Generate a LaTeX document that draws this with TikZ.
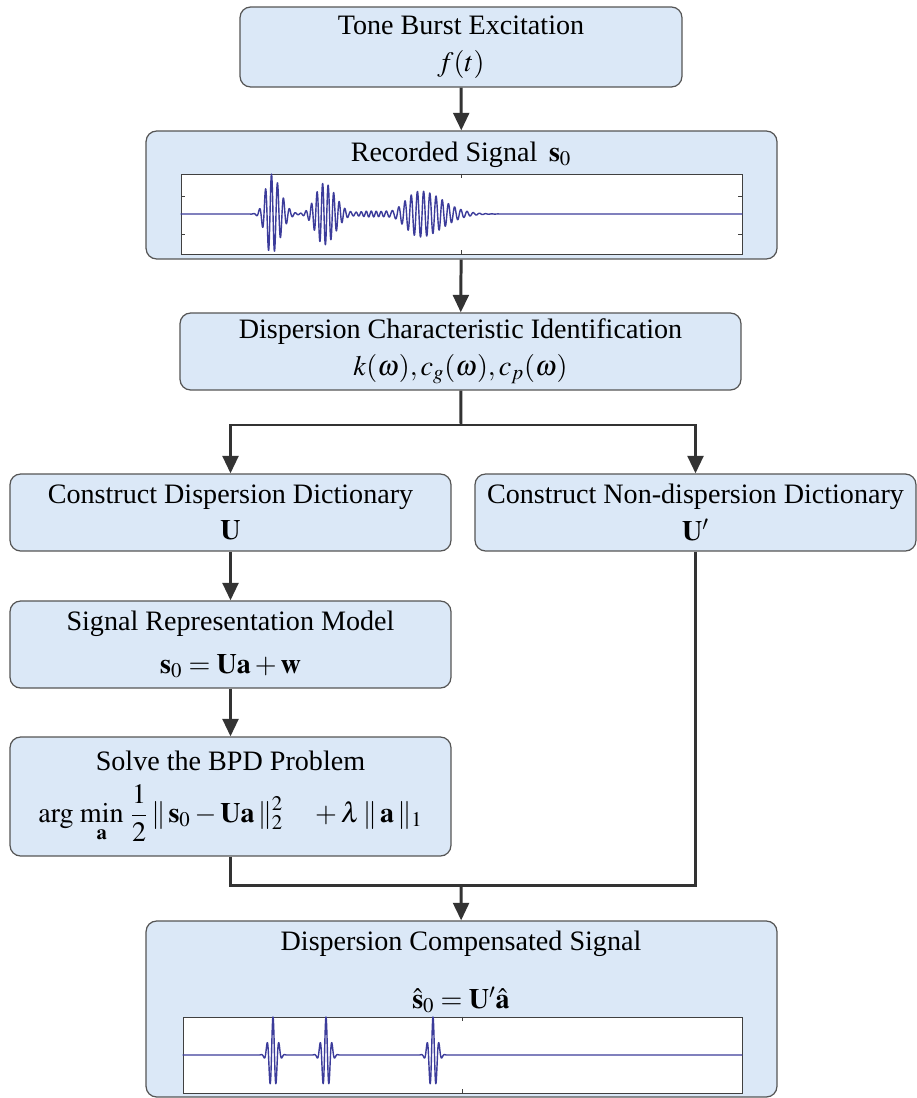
\documentclass[tikz,border=0pt]{standalone}
\usepackage{mathptmx}
\usepackage[no-math]{fontspec}
\setmainfont{Liberation Serif}
\usetikzlibrary{arrows.meta, positioning}
\definecolor{box_fill}{RGB}{219, 232, 247}
\definecolor{box_edge}{RGB}{85, 85, 85}
\definecolor{arrow_grey}{RGB}{51, 51, 51}
\definecolor{trace_blue}{RGB}{60, 60, 155}

\begin{document}
\begin{tikzpicture}[
    x=0.02cm, y=-0.02cm,
    every node/.style={font=\fontsize{16}{21}\selectfont},
    box/.style={draw=box_edge, line width=0.7pt, rounded corners=6pt, fill=box_fill,
                align=center, inner sep=0pt},
    plotbg/.style={draw=black!75, line width=0.5pt, fill=white, inner sep=0pt},
    arr/.style={-{Triangle[width=9pt,length=10pt]}, line width=1.7pt, arrow_grey},
    lin/.style={line width=1.7pt, arrow_grey},
    tick/.style={line width=0.5pt, black!75},
    trace/.style={trace_blue, line width=0.8pt, line join=round},
]
\useasboundingbox (0,0) rectangle (916,1098);

\node[box, minimum width=8.84cm, minimum height=1.6cm]   (tone) at (461,47)
    {Tone Burst Excitation\\$f(t)$};
\node[box, minimum width=12.62cm, minimum height=2.56cm] (rec)  at (461.5,195) {};
\node (rectitle) at (461,155) {Recorded Signal \,$\mathbf{s}_0$};
\node[plotbg, minimum width=11.22cm, minimum height=1.6cm] (recplot) at (461.5,214) {};

\node[box, minimum width=11.22cm, minimum height=1.54cm] (dci)  at (460.5,351.5)
    {Dispersion Characteristic Identification\\$k(\omega), c_g(\omega), c_p(\omega)$};
\node[box, minimum width=8.82cm, minimum height=1.54cm]  (cdd)  at (230.5,512.5)
    {Construct Dispersion Dictionary\\$\mathbf{U}$};
\node[box, minimum width=8.82cm, minimum height=1.54cm]  (cnd)  at (695.5,512.5)
    {Construct Non-dispersion Dictionary\\$\mathbf{U}^{\prime}$};
\node[box, minimum width=8.82cm, minimum height=1.74cm]  (srm)  at (230.5,644.5)
    {Signal Representation Model\\[3pt]$\mathbf{s}_0=\mathbf{U}\mathbf{a}+\mathbf{w}$};
\node[box, minimum width=8.82cm, minimum height=2.38cm]  (bpd)  at (230.5,796.5)
    {Solve the BPD Problem\\[7pt]$\displaystyle \arg\,\min_{\mathbf{a}}\,\frac{1}{2}\,\|\,\mathbf{s}_0-\mathbf{U}\mathbf{a}\,\|_2^2\quad+\lambda\,\|\,\mathbf{a}\,\|_1$};
\node[box, minimum width=12.62cm, minimum height=3.52cm] (comp) at (461.5,1009) {};
\node[align=center] (comptext) at (461,972)
    {Dispersion Compensated Signal\\[12pt]$\hat{\mathbf{s}}_0=\mathbf{U}^{\prime}\hat{\mathbf{a}}$};
\node[plotbg, minimum width=11.18cm, minimum height=1.52cm] (compplot) at (462.5,1055) {};

% axis ticks
\draw[tick] (181,196) -- ++(4,0) (181,234) -- ++(4,0);
\draw[tick] (742,196) -- ++(-4,0) (742,234) -- ++(-4,0);
\draw[tick] (recplot.north) -- ++(0,4) (recplot.south) -- ++(0,-4);
\draw[tick] (compplot.north) -- ++(0,4) (compplot.south) -- ++(0,-4);

% recorded signal
\draw[trace] (recplot.west) -- (245,214)
    -- plot[domain=245:550, samples=1500] (\x, {214
      - 40*exp(-((\x-271)/(\x<271?8:13))^2)*sin(60*mod(\x,6))
      - 31*exp(-((\x-324)/(\x<324?12:16))^2)*sin(65*mod(\x,360/65))
      - 3*exp(-((\x-372)/18)^2)*sin(72*mod(\x,5))
      - 23*exp(-((\x-420)/(\x<420?20:32))^2)*sin(58*mod(\x,360/58))})
    -- (recplot.east);

% compensated signal
\draw[trace] (compplot.west) -- (250,1055)
    -- plot[domain=250:460, samples=1400] (\x, {1055
      - 38*exp(-((\x-273)/5.5)^2)*cos(60*mod(\x-273,6))
      - 38*exp(-((\x-326)/5.5)^2)*cos(60*mod(\x-326,6))
      - 38*exp(-((\x-433)/5.5)^2)*cos(60*mod(\x-433,6))})
    -- (compplot.east);

\coordinate (split) at (461,425);
\coordinate (merge) at (461,885);

\draw[arr] (tone) -- (rec);
\draw[arr] (rec) -- (dci);
\draw[lin] (dci) -- (split);
\draw[arr] (split) -| (cdd);
\draw[arr] (split) -| (cnd);
\draw[arr] (cdd) -- (srm);
\draw[arr] (srm) -- (bpd);
\draw[lin] (bpd) |- (merge);
\draw[lin] (cnd) |- (merge);
\draw[arr] (merge) -- (comp);
\end{tikzpicture}
\end{document}
